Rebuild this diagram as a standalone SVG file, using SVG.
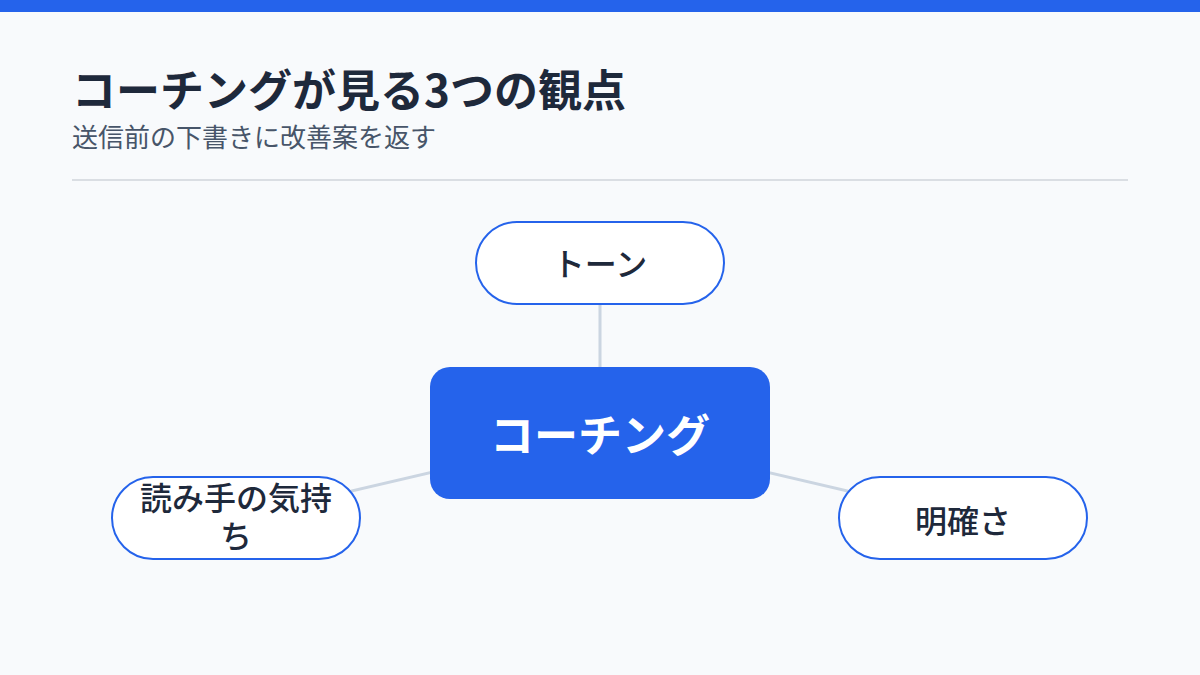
<svg xmlns="http://www.w3.org/2000/svg" width="1200" height="675" viewBox="0 0 1200 675">
<style>
.t{font-family:"Noto Sans CJK JP","Noto Sans",sans-serif}
.title{font-size:44px;font-weight:700;fill:#1E293B}
.sub{font-size:26px;fill:#475569}
.pill{fill:#FFFFFF;stroke:#2563EB;stroke-width:2}
.lbl{font-size:32px;font-weight:500;fill:#1E293B;text-anchor:middle}
.edge{stroke:#CBD5E1;stroke-width:3;fill:none}
</style>
<rect x="0" y="0" width="1200" height="675" fill="#F8FAFC"/>
<rect x="0" y="0" width="1200" height="12" fill="#2563EB"/>
<text class="t title" x="72" y="107">コーチングが見る3つの観点</text>
<text class="t sub" x="72" y="147">送信前の下書きに改善案を返す</text>
<line x1="72" y1="180" x2="1128" y2="180" stroke="#D1D5DB" stroke-width="1.5"/>
<g id="connectors">
<line class="edge" x1="600" y1="433" x2="600" y2="263"/>
<line class="edge" x1="600" y1="433" x2="236" y2="518"/>
<line class="edge" x1="600" y1="433" x2="963" y2="518"/>
</g>
<g id="node-tone">
<rect class="pill" x="476" y="222" width="248" height="82" rx="41"/>
<text class="t lbl" x="600" y="276">トーン</text>
</g>
<g id="node-coaching">
<rect x="430" y="367" width="340" height="132" rx="20" fill="#2563EB"/>
<text class="t" x="600" y="452" font-size="44" font-weight="700" fill="#FFFFFF" text-anchor="middle">コーチング</text>
</g>
<g id="node-reader">
<rect class="pill" x="112" y="477" width="248" height="82" rx="41"/>
<text class="t lbl" x="236" y="510">読み手の気持</text>
<text class="t lbl" x="236" y="548">ち</text>
</g>
<g id="node-clarity">
<rect class="pill" x="839" y="477" width="248" height="82" rx="41"/>
<text class="t lbl" x="963" y="533">明確さ</text>
</g>
</svg>
